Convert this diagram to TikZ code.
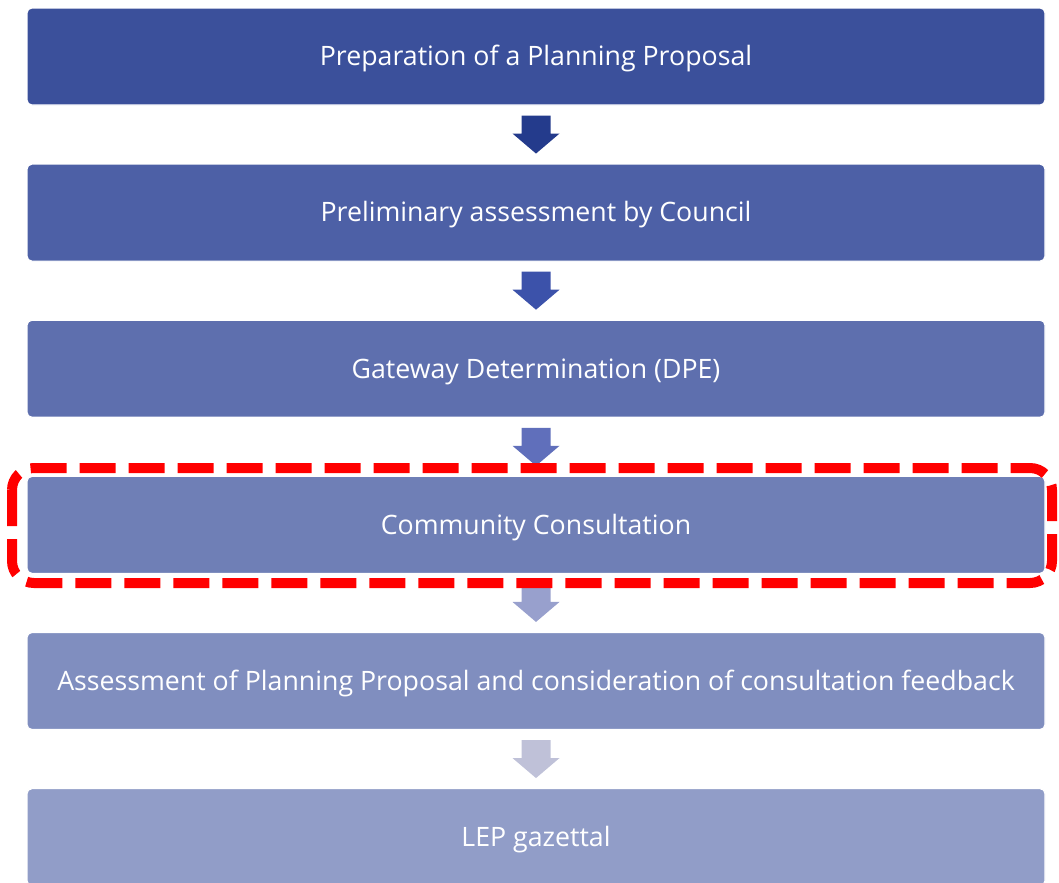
\documentclass[tikz,border=0pt]{standalone}
\usepackage{fontspec}
\setmainfont{Open Sans}
\usetikzlibrary{positioning,calc}

\definecolor{stepA}{RGB}{59,80,155}
\definecolor{stepB}{RGB}{77,96,166}
\definecolor{stepC}{RGB}{94,111,174}
\definecolor{stepD}{RGB}{111,127,182}
\definecolor{stepE}{RGB}{128,142,191}
\definecolor{stepF}{RGB}{145,157,200}
\definecolor{arrA}{RGB}{36,59,140}
\definecolor{arrB}{RGB}{60,82,170}
\definecolor{arrC}{RGB}{96,111,187}
\definecolor{arrD}{RGB}{152,160,205}
\definecolor{arrE}{RGB}{191,193,216}

\tikzset{
  stepbox/.style={draw=white, line width=0.8pt, rounded corners=5*0.025cm,
    minimum width=1018*0.025cm, minimum height=97*0.025cm,
    text=white, font=\fontsize{19}{22}\selectfont, inner sep=0pt,
    text height=18pt, text depth=4.75pt},
  highlight/.style={draw=red, line width=10*0.025cm, dash pattern=on 36*0.025cm off 13*0.025cm,
    rounded corners=22*0.025cm}
}

\begin{document}
\begin{tikzpicture}[x=0.025cm, y=-0.025cm, node distance=58*0.025cm]
\useasboundingbox (0,0) rectangle (1059,882);

% the steps
\node[stepbox, fill=stepA] (prep) at (536,56.5) {Preparation of a Planning Proposal};
\node[stepbox, fill=stepB, below=of prep] (prelim) {Preliminary assessment by Council};
\node[stepbox, fill=stepC, below=of prelim] (gateway) {Gateway Determination (DPE)};
\node[stepbox, fill=stepD, below=of gateway] (consult) {Community Consultation};
\node[stepbox, fill=stepE, below=of consult] (assess) {Assessment of Planning Proposal and consideration of consultation feedback};
\node[stepbox, fill=stepF, below=of assess] (gazettal) {LEP gazettal};

% block arrows between steps
\foreach \a/\b/\c in {prep/prelim/arrA, prelim/gateway/arrB, gateway/consult/arrC,
                      consult/assess/arrD, assess/gazettal/arrE}{
  \coordinate (m) at ($(\a.south)!0.5!(\b.north)$);
  \fill[\c] ([xshift=-14.5*0.025cm, yshift=19*0.025cm]m) -- ++(29,0) -- ++(0,18)
    -- ++(9,0) -- ++(-23.5,20) -- ++(-23.5,-20) -- ++(9,0) -- cycle;
}

% highlight round the consultation
\draw[highlight] (12,468) rectangle (1052,583);
\end{tikzpicture}
\end{document}
